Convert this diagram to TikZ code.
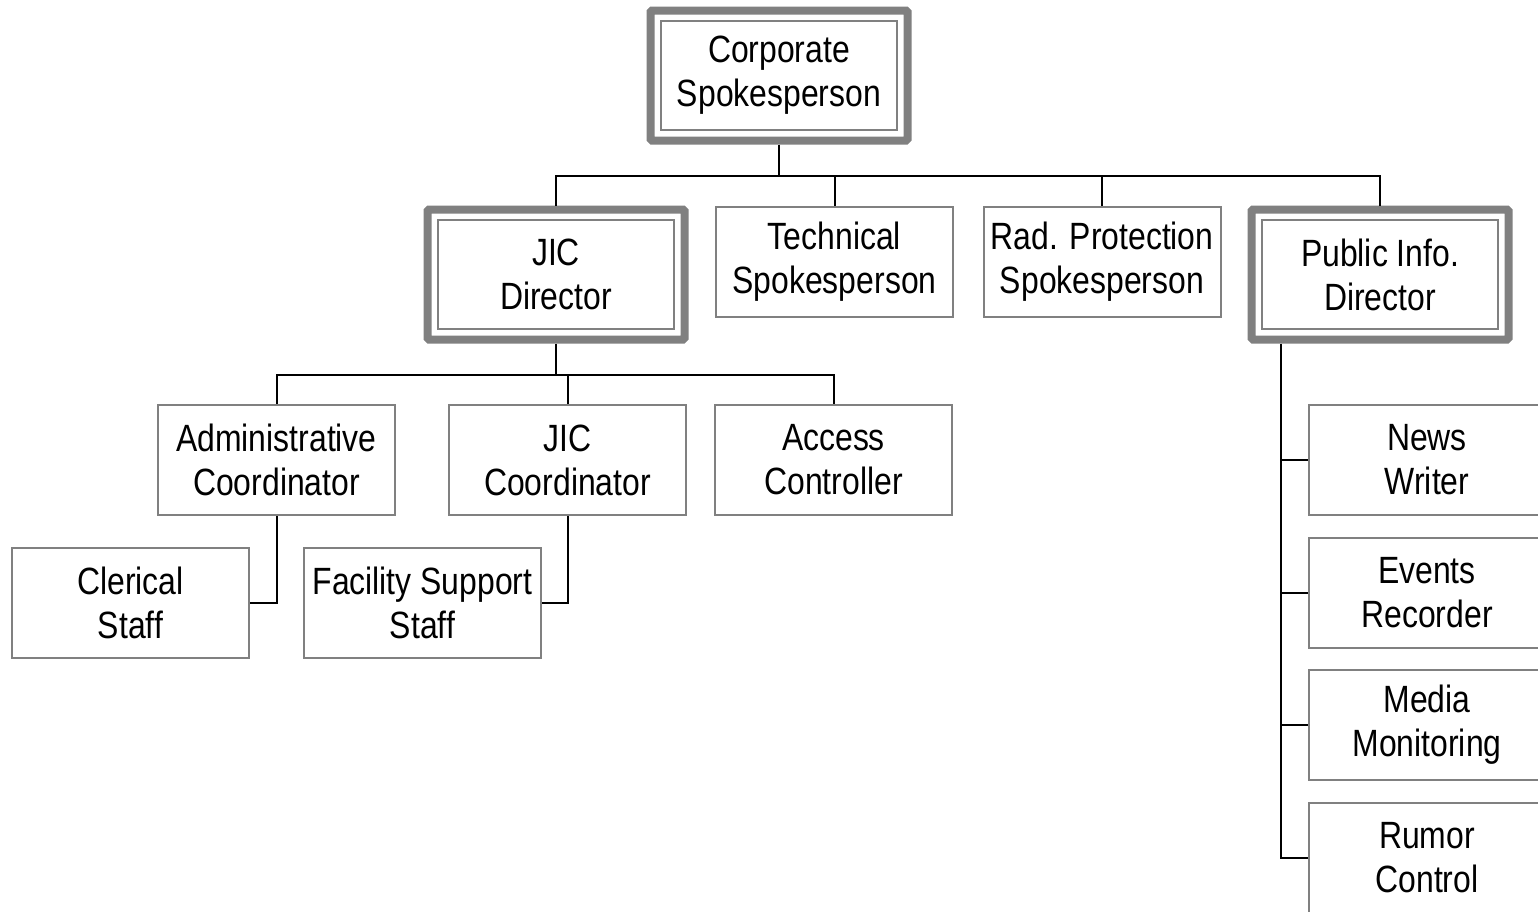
\documentclass[tikz,border=0pt]{standalone}
\usepackage{fontspec}
\setmainfont{Liberation Sans}[FakeStretch=0.84]
\usetikzlibrary{fit}
\definecolor{boxgray}{HTML}{808080}
\tikzset{
  x=1pt,y=-1pt,
  txt/.style={font=\fontsize{38}{44}\selectfont, align=center, inner sep=0pt},
  thinbox/.style={txt, draw=boxgray, line width=2pt, minimum width=237pt, minimum height=110pt},
  innerbox/.style={txt, draw=boxgray, line width=2pt, minimum width=236pt, minimum height=109pt},
  outerframe/.style={draw=boxgray, line width=8pt, rounded corners=1.5pt, inner sep=9.5pt},
  conn/.style={draw=black, line width=2pt}
}
\begin{document}
\begin{tikzpicture}
\useasboundingbox (0,0) rectangle (1538,911);
\fill[white] (0,0) rectangle (1538,911);
% thick boxes
\node[innerbox] (corpi) at (779,75.5) {Corporate\\Spokesperson};
\node[outerframe, fit=(corpi)] (corp) {};
\node[innerbox] (jicdi) at (556,274.5) {JIC\\Director};
\node[outerframe, fit=(jicdi)] (jicd) {};
\node[innerbox] (pubdi) at (1380,274.5) {Public Info.\\Director};
\node[outerframe, fit=(pubdi)] (pubd) {};
% thin boxes
\node[thinbox] (tech) at (834.5,261.5) {Technical\\Spokesperson};
\node[thinbox] (rad) at (1102,261.5) {Rad. Protection\\Spokesperson};
\node[thinbox] (admin) at (276.5,460) {Administrative\\Coordinator};
\node[thinbox] (jicc) at (567.5,460) {JIC\\Coordinator};
\node[thinbox] (access) at (833.5,460) {Access\\Controller};
\node[thinbox] (cler) at (130.5,603) {Clerical\\Staff};
\node[thinbox] (fac) at (422.5,603) {Facility Support\\Staff};
\node[thinbox] (news) at (1427,460) {News\\Writer};
\node[thinbox] (events) at (1427,593) {Events\\Recorder};
\node[thinbox] (media) at (1427,725) {Media\\Monitoring};
\node[thinbox] (rumor) at (1427,858) {Rumor\\Control};
% connectors
\coordinate (b1) at (0,176);
\coordinate (b2) at (0,375);
\coordinate (v) at (1281,0);
\draw[conn] (corp.south) -- (corp.south |- b1);
\draw[conn] (jicd.north) |- (pubd.north |- b1) -- (pubd.north);
\draw[conn] (tech.north) -- (tech.north |- b1);
\draw[conn] (rad.north) -- (rad.north |- b1);
\draw[conn] (jicd.south) -- (jicd.south |- b2);
\draw[conn] (admin.north) |- (access.north |- b2) -- (access.north);
\draw[conn] (jicc.north) -- (jicc.north |- b2);
\draw[conn] (admin.south) |- (cler.east);
\draw[conn] (jicc.south) |- (fac.east);
\draw[conn] (v |- pubd.south) |- (rumor.west);
\draw[conn] (v |- news.west) -- (news.west);
\draw[conn] (v |- events.west) -- (events.west);
\draw[conn] (v |- media.west) -- (media.west);
\end{tikzpicture}
\end{document}
